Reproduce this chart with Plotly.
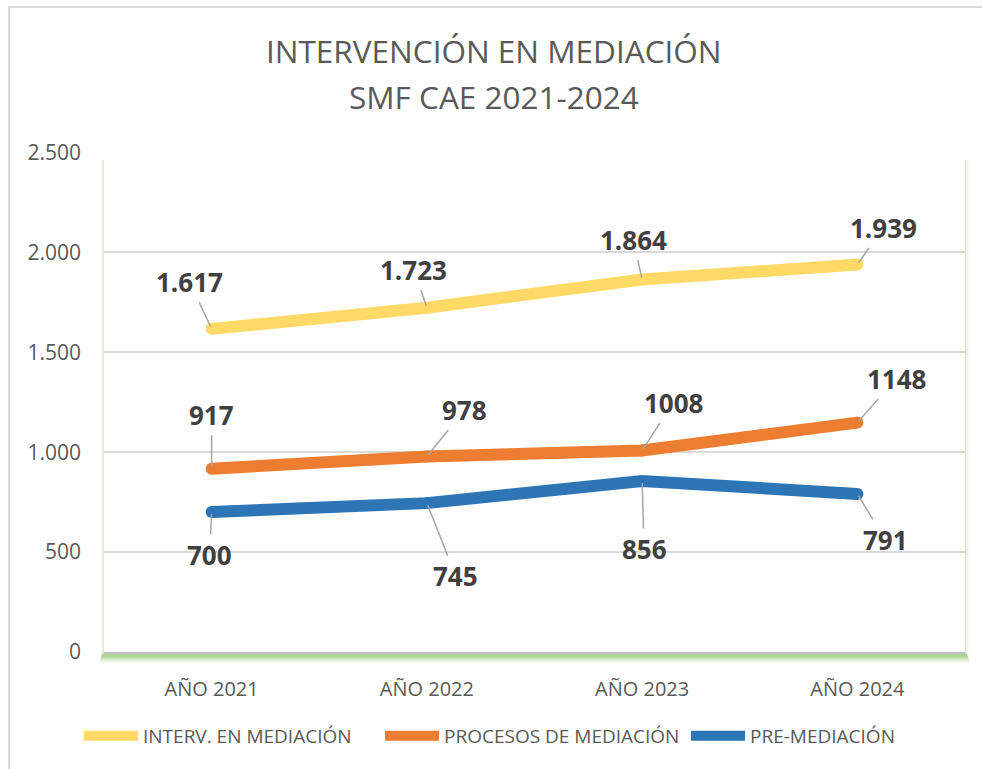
import plotly.graph_objects as go

categories = ["AÑO 2021", "AÑO 2022", "AÑO 2023", "AÑO 2024"]
interv = [1617, 1723, 1864, 1939]
procesos = [917, 978, 1008, 1148]
premed = [700, 745, 856, 791]
interv_labels = ["1.617", "1.723", "1.864", "1.939"]
procesos_labels = ["917", "978", "1008", "1148"]
premed_labels = ["700", "745", "856", "791"]
series_names = ["INTERV. EN MEDIACIÓN", "PROCESOS DE MEDIACIÓN", "PRE-MEDIACIÓN"]
tick_vals = [0, 500, 1000, 1500, 2000, 2500]

colors = ["#FFD966", "#ED7D31", "#2E75B6"]
FONT = "Open Sans"

# label offsets (px) relative to each point: (ax, ay)
offsets = [
    [(-22, -47), (-13, -38), (-9, -40), (26, -37)],
    [(0, -54), (38, -47), (31, -48), (39, -44)],
    [(-2, 43), (29, 73), (2, 68), (28, 46)],
]
# legend left positions (container px)
legend_x = [79, 380, 686]

fig = go.Figure()
all_series = [interv, procesos, premed]
all_labels = [interv_labels, procesos_labels, premed_labels]
legend_ids = ["legend", "legend2", "legend3"]
for vals, name, col, lg in zip(all_series, series_names, colors, legend_ids):
    fig.add_trace(go.Scatter(x=categories, y=vals, name=name, mode="lines", legend=lg,
                             line=dict(color=col, width=12)))
    fig.add_trace(go.Scatter(x=categories, y=vals, mode="markers", showlegend=False,
                             marker=dict(color=col, size=12, line=dict(width=0)),
                             hoverinfo="skip"))

annotations = []
for vals, labs, offs in zip(all_series, all_labels, offsets):
    for c, v, t, (ax, ay) in zip(categories, vals, labs, offs):
        annotations.append(dict(x=c, y=v, text=t, showarrow=True, ax=ax, ay=ay,
                                arrowhead=0, arrowwidth=1.5, arrowcolor="#A6A6A6",
                                standoff=2, borderpad=2,
                                font=dict(family=FONT, size=26, color="#404040", weight="bold")))

# title lines
px = 1 / 861.0
py = 1 / 500.0
title_x = (494 - 104) * px
annotations.append(dict(xref="paper", yref="paper", x=title_x, y=(652 - 50) * py, text="INTERVENCIÓN EN MEDIACIÓN",
                        showarrow=False, font=dict(family=FONT, size=31.5, color="#595959"),
                        xanchor="center", yanchor="middle"))
annotations.append(dict(xref="paper", yref="paper", x=title_x, y=(652 - 97) * py, text="SMF CAE 2021-2024",
                        showarrow=False, font=dict(family=FONT, size=31.5, color="#595959"),
                        xanchor="center", yanchor="middle"))

shapes = [
    # outer chart border
    dict(type="rect", xref="paper", yref="paper", x0=-95 * px, x1=1.05, y0=-0.3, y1=645 * py,
         line=dict(color="#D9D9D9", width=2), layer="below"),
]
# green glow around plot area (bottom strong, sides faint)
bottom_alpha = [0.55, 0.75, 0.8, 0.75, 0.65, 0.5, 0.38, 0.27, 0.17, 0.1, 0.05]
for d, a in enumerate(bottom_alpha):
    shapes.append(dict(type="rect", xref="paper", yref="paper", x0=-(2 + d * 0.3) * px, x1=1 + (2 + d * 0.3) * px,
                       y0=-(d + 2) * py, y1=-(d + 1) * py,
                       line=dict(width=0), fillcolor=f"rgba(150,200,120,{a})", layer="below"))
side_alpha = [0.35, 0.22, 0.12, 0.05]
for d, a in enumerate(side_alpha):
    for x0, x1 in [(-(d + 1) * px, -d * px), (1 + d * px, 1 + (d + 1) * px)]:
        shapes.append(dict(type="rect", xref="paper", yref="paper", x0=x0, x1=x1, y0=-1 * py, y1=1 - 8 * py,
                           line=dict(width=0), fillcolor=f"rgba(150,200,120,{a})", layer="below"))

legend_common = dict(orientation="h", xref="container", yref="container",
                     xanchor="left", y=1 - 736 / 769, yanchor="middle",
                     font=dict(family=FONT, size=19, color="#595959"),
                     itemwidth=54, bgcolor="rgba(0,0,0,0)")

fig.update_layout(
    width=982, height=769,
    margin=dict(l=104, r=17, t=152, b=117, autoexpand=False),
    paper_bgcolor="white", plot_bgcolor="white",
    separators=",.",
    annotations=annotations, shapes=shapes,
    showlegend=True,
    legend=dict(x=legend_x[0] / 982, **legend_common),
    legend2=dict(x=legend_x[1] / 982, **legend_common),
    legend3=dict(x=legend_x[2] / 982, **legend_common),
    xaxis=dict(type="category", range=[-0.5, 3.5], showgrid=False, showline=True,
               linecolor="#BFBFBF", linewidth=1.5, ticks="", ticklabelstandoff=18,
               tickfont=dict(family=FONT, size=20, color="#595959"), fixedrange=True),
    yaxis=dict(range=[0, 2502], tickvals=tick_vals, tickformat=",d", showgrid=True,
               gridcolor="#D9D9D9", gridwidth=1.5, zeroline=False, showline=False, ticks="",
               ticklabelstandoff=22, tickfont=dict(family=FONT, size=21, color="#595959"),
               fixedrange=True),
)

fig.write_html("out.html", post_script="document.body.style.margin='0';",
               config={"displayModeBar": False})
